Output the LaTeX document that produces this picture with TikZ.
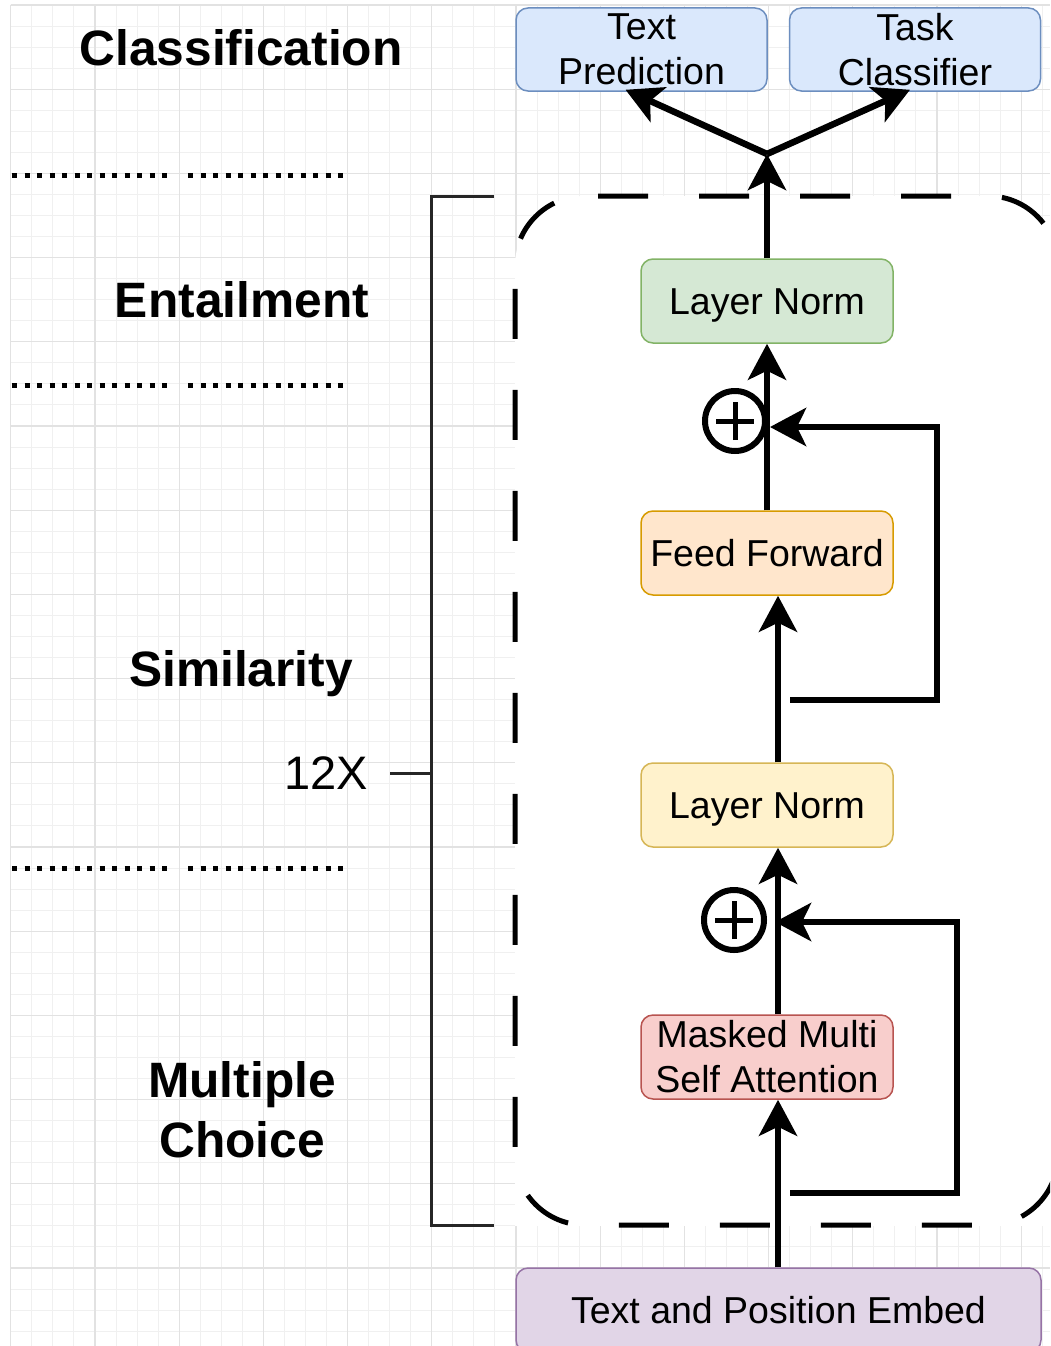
\documentclass[tikz,border=0pt]{standalone}
\usepackage{fontspec}
\setmainfont{Liberation Sans}
\usetikzlibrary{arrows.meta}
\definecolor{bluef}{HTML}{DAE8FC}\definecolor{bluel}{HTML}{6C8EBF}
\definecolor{greenf}{HTML}{D5E8D4}\definecolor{greenl}{HTML}{82B366}
\definecolor{orangef}{HTML}{FFE6CC}\definecolor{orangel}{HTML}{D79B00}
\definecolor{yellowf}{HTML}{FFF2CC}\definecolor{yellowl}{HTML}{D6B656}
\definecolor{redf}{HTML}{F8CECC}\definecolor{redl}{HTML}{B85450}
\definecolor{purplef}{HTML}{E1D5E7}\definecolor{purplel}{HTML}{9673A6}
\definecolor{gridminor}{HTML}{F0F0F0}\definecolor{gridmajor}{HTML}{E2E2E2}
\begin{document}
\begin{tikzpicture}[x=1pt,y=-1pt,
  box/.style={draw, line width=1.5pt, rounded corners=12pt, minimum width=252pt, minimum height=84pt, inner sep=0pt, align=center, font=\fontsize{37.5}{45}\selectfont},
  onel/.style={text height=27pt, text depth=0pt},
  lab/.style={font=\fontsize{49.7}{60}\selectfont\bfseries, align=center, inner sep=0pt},
  arr/.style={line width=6.5pt, line join=miter, -{Stealth[length=36pt,width=38pt,inset=9pt]}},
  gminor/.style={draw=gridminor, line width=1pt},
  gmajor/.style={draw=gridmajor, line width=1.3pt},
  dotline/.style={line width=5pt, dash pattern=on 5pt off 7.5pt},
  bracket/.style={line width=3pt, draw=black!85},
  dashbox/.style={line width=5pt, dash pattern=on 50pt off 51pt, rounded corners=70pt},
  plusc/.style={circle, draw, line width=6pt, minimum size=60pt, inner sep=0pt, fill=white}
]
\useasboundingbox (0,0) rectangle (1050,1346);
\clip (0,0) rectangle (1050,1346);
\fill[white] (0,0) rectangle (1050,1346);
% grid
\foreach \i in {0,...,49} \draw[gminor] ({10.8+\i*21.05},5) -- ({10.8+\i*21.05},1346);
\foreach \j in {0,...,63} \draw[gminor] (10.8,{5+\j*21.05}) -- (1050,{5+\j*21.05});
\foreach \i in {0,...,12} \draw[gmajor] ({10.8+\i*84.2},5) -- ({10.8+\i*84.2},1346);
\foreach \j in {0,...,15} \draw[gmajor] (10.8,{5+\j*84.2}) -- (1050,{5+\j*84.2});
\fill[white] (515,258) rectangle (1050,1226);
% dashed repeated block
\fill[white, rounded corners=70pt] (515,196) rectangle (1058,1225);
\draw[dashbox] (598,196) -- (1058,196) -- (1058,1225) -- (515,1225) -- (515,196) -- (598,196);
% bracket
\draw[bracket] (494,196) -- (431,196) -- (431,1225) -- (494,1225);
\node[font=\fontsize{47}{56}\selectfont, inner sep=0pt, anchor=east] (x12) at (368,773) {12X};
\coordinate (bk) at (431,773);
\draw[bracket] ([xshift=22pt]x12.east) -- (bk);
% task labels
\node[lab] (cls) at (241,48) {Classification};
\node[lab] (ent) at (242,300) {Entailment};
\node[lab, anchor=base] (sim) at (241,686) {Similarity};
\node[lab] (mc) at (242,1110) {Multiple\\Choice};
% dotted separators
\draw[dotline] (12,175) -- (170,175);
\draw[dotline] (188,175) -- (345,175);
\draw[dotline] (12,385) -- (170,385);
\draw[dotline] (188,385) -- (345,385);
\draw[dotline] (12,868) -- (170,868);
\draw[dotline] (188,868) -- (345,868);
% boxes
\node[box, fill=bluef, draw=bluel, minimum width=251pt, minimum height=83pt] (tp) at (641.5,49.5) {Text\\Prediction};
\node[box, fill=bluef, draw=bluel, minimum width=251pt, minimum height=83pt] (tc) at (915,49.5) {Task\\Classifier};
\node[box, onel, fill=greenf, draw=greenl] (ln1) at (767,301) {Layer Norm};
\node[box, onel, fill=orangef, draw=orangel] (ff) at (767,553) {Feed Forward};
\node[box, onel, fill=yellowf, draw=yellowl] (ln2) at (767,805) {Layer Norm};
\node[box, fill=redf, draw=redl] (mm) at (767,1057) {Masked Multi\\Self Attention};
\node[box, onel, fill=purplef, draw=purplel, minimum width=525pt] (emb) at (778.5,1310) {Text and Position Embed};
% add circles
\node[plusc] (p1) at (735,421) {};
\draw[line width=5pt] ([xshift=-19pt]p1.center) -- ([xshift=19pt]p1.center);
\draw[line width=5pt] ([yshift=-19pt]p1.center) -- ([yshift=19pt]p1.center);
\node[plusc] (p2) at (734,920) {};
\draw[line width=5pt] ([xshift=-19pt]p2.center) -- ([xshift=19pt]p2.center);
\draw[line width=5pt] ([yshift=-19pt]p2.center) -- ([yshift=19pt]p2.center);
% main flow
\coordinate (j) at (767,154);
\draw[arr] (ln1.north) -- (j);
\draw[arr] (j) -- ([xshift=-16pt,yshift=2pt]tp.south);
\draw[arr] (j) -- ([xshift=-5pt,yshift=2pt]tc.south);
\draw[arr] (ff.north) -- (ln1.south);
\draw[arr] ([xshift=11pt]ln2.north) -- ([xshift=11pt]ff.south);
\draw[arr] ([xshift=11pt]mm.north) -- ([xshift=11pt]ln2.south);
\draw[arr] ([xshift=11pt]mm.south |- emb.north) -- ([xshift=11pt]mm.south);
% residual connections
\coordinate (s1a) at (790,700);
\coordinate (s1b) at (937,427);
\coordinate (s1c) at (770,427);
\draw[arr] (s1a) -| (s1b) -- (s1c);
\coordinate (s2a) at (790,1193);
\coordinate (s2b) at (957,922);
\coordinate (s2c) at (775,922);
\draw[arr] (s2a) -| (s2b) -- (s2c);
\end{tikzpicture}
\end{document}
